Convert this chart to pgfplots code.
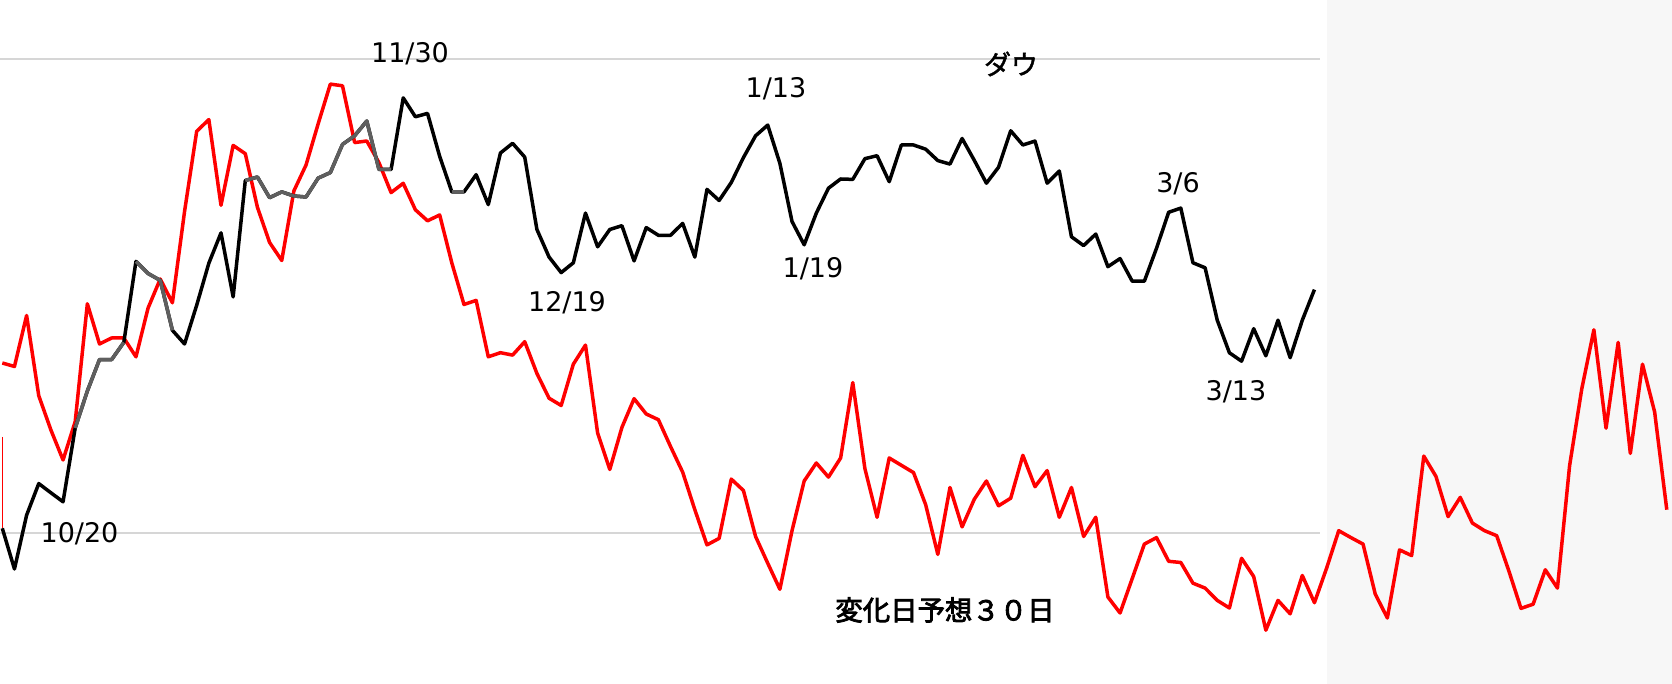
\documentclass[border=0pt]{standalone}
\usepackage{pgfplots}
\pgfplotsset{compat=1.18}
\usepackage{fontspec}
\setmainfont{DejaVu Sans}
\newfontfamily\jp[FakeBold=3]{Noto Sans CJK JP}
\newfontfamily\jpk[FakeBold=1.5]{Noto Sans CJK JP}
\definecolor{gridc}{RGB}{214,214,214}
\definecolor{panel}{RGB}{247,247,247}
\definecolor{dgray}{RGB}{95,95,95}
\begin{document}
\begin{tikzpicture}
\useasboundingbox (0,0) rectangle (836pt,342pt);
\begin{axis}[
  at={(0,0)}, anchor=south west,
  width=836pt, height=342pt, scale only axis,
  xmin=-0.19, xmax=137.43, ymin=0, ymax=684,
  hide axis, clip=true,
  unbounded coords=jump,
]
\fill[panel] (axis cs:109.03,0) rectangle (axis cs:137.43,684);
\draw[gridc, line width=0.8pt] (axis cs:-0.19,625) -- (axis cs:108.45,625);
\draw[gridc, line width=0.8pt] (axis cs:-0.19,151) -- (axis cs:108.45,151);
% thin red marker at start
\addplot[red, line width=0.5pt] coordinates {(0.03,247) (0.03,156)};
% red series
\addplot[red, line width=1.75pt, line join=round] coordinates {
(0,321) (1,317.5) (2,368.5) (3,288.3) (4,254) (5,224) (6,262.4) (7,380.2) (8,340) (9,346)
(10,346) (11,327.2) (12,376) (13,405) (14,381.2) (15,472.5) (16,552.7) (17,564.4) (18,478.7) (19,538.6)
(20,530.3) (21,476.6) (22,441.5) (23,423.5) (24,493.1) (25,519) (26,560.3) (27,599.9) (28,598.2) (29,541.4)
(30,543) (31,521.4) (32,491.4) (33,500.7) (34,474.2) (35,463.2) (36,469) (37,421) (38,379.5) (39,383.6)
(40,327.2) (41,331.3) (42,328.9) (43,342.3) (44,310.6) (45,285.8) (46,278.5) (47,319.8) (48,338.9) (49,250.9)
(50,214.5) (51,256.6) (52,285.3) (53,270) (54,264.3) (55,237.5) (56,211.8) (57,174.3) (58,139.1) (59,145.6)
(60,204.9) (61,193.5) (62,147.5) (63,120.8) (64,94.7) (65,153.3) (66,203) (67,221) (68,206.9) (69,226)
(70,301.4) (71,215.3) (72,166.7) (73,226) (74,218.7) (75,211.4) (76,179.3) (77,129.6) (78,196.5) (79,157.1)
(80,184.7) (81,203) (82,178.2) (83,185.8) (84,228.7) (85,197.3) (86,213.4) (87,166.7) (88,196.5) (89,147.5)
(90,166.7) (91,87) (92,71) (93,105.4) (94,139.9) (95,146.4) (96,122.7) (97,121.5) (98,100.8) (99,95.9)
(100,83.6) (101,76) (102,125.7) (103,107.4) (104,53.8) (105,83.6) (106,70.2) (107,108.5) (108,81.3) (109,115.8)
(110,153.3) (111,146.4) (112,139.9) (113,90.1) (114,66) (115,134.1) (116,128.4) (117,227.9) (118,207.6) (119,167.4)
(120,186.6) (121,160.9) (122,153.3) (123,148.3) (124,113.1) (125,75.6) (126,79.8) (127,114.2) (128,95.9) (129,218.3)
(130,294.9) (131,354.2) (132,255.8) (133,341.6) (134,230.6) (135,319.8) (136,272) (137,174.3)
};
% Dow (black)
\addplot[black, line width=1.75pt, line join=round] coordinates {
(0,155.7) (1,115) (2,168.8) (3,200.4) (4,191.2) (5,182.2) (6,256) (7,293) (8,324.4) (9,324.4)
(10,341.6) (11,422.6) (12,410.5) (13,403.6) (14,353.7) (15,340) (16,378.8) (17,420.8) (18,451.1) (19,387.1)
(20,503.5) (21,507) (22,486.3) (23,492.1) (24,488) (25,487) (26,505.9) (27,511.4) (28,539.6) (29,548.2)
(30,563) (31,514.5) (32,514.5) (33,586.1) (34,567.2) (35,570.6) (36,527.6) (37,492.1) (38,492.1) (39,509.3)
(40,479.4) (41,531) (42,540.7) (43,526.9) (44,454.6) (45,427) (46,411.4) (47,421.2) (48,470.9) (49,437.2)
(50,454.5) (51,458.3) (52,423.1) (53,456.4) (54,448.7) (55,448.7) (56,460.6) (57,426.9) (58,494.6) (59,483.5)
(60,501.5) (61,526.4) (62,548.2) (63,558.9) (64,520.7) (65,462.5) (66,439.2) (67,470.9) (68,495.8) (69,505)
(70,504.6) (71,525.3) (72,528.3) (73,502.3) (74,539) (75,539) (76,534.8) (77,523.4) (78,519.9) (79,545.5)
(80,523.7) (81,500.8) (82,516.8) (83,553.2) (84,539) (85,542.9) (86,500.8) (87,513) (88,447.2) (89,438.4)
(90,449.9) (91,417.3) (92,425.4) (93,402.8) (94,402.8) (95,435.7) (96,471.7) (97,475.9) (98,421.2) (99,416.2)
(100,363.8) (101,331.2) (102,322.8) (103,355.3) (104,328.2) (105,363.8) (106,326.3) (107,363.8) (108,394.4)
};
% gray overlay segments
\addplot[dgray, line width=1.75pt, line join=round] coordinates {
(6,256) (7,293) (8,324.4) (9,324.4) (10,341.6) (10.5,nan)
(11,422.6) (12,410.5) (13,403.6) (14,353.7) (14.5,nan)
(20,503.5) (21,507) (22,486.3) (23,492.1) (24,488) (25,487) (26,505.9) (27,511.4) (28,539.6) (29,548.2)
(30,563) (31,514.5) (32,514.5) (32.5,nan)
(37,492.1) (38,492.1)
};
\end{axis}
\begin{scope}[every node/.style={inner sep=0pt, font=\fontsize{13.5pt}{16pt}\selectfont}]
\node at (39.75pt,75pt) {10/20};
\node at (205pt,315pt) {11/30};
\node at (283.5pt,190.5pt) {12/19};
\node at (388pt,297.5pt) {1/13};
\node at (406.5pt,207.5pt) {1/19};
\node at (589pt,250pt) {3/6};
\node at (618pt,146pt) {3/13};
\node[font=\jpk\fontsize{13.5pt}{16pt}\selectfont] at (505.5pt,310pt) {ダウ};
\node[font=\jp\fontsize{13.7pt}{16pt}\selectfont] at (472.5pt,37pt) {変化日予想３０日};
\end{scope}
\end{tikzpicture}
\end{document}
